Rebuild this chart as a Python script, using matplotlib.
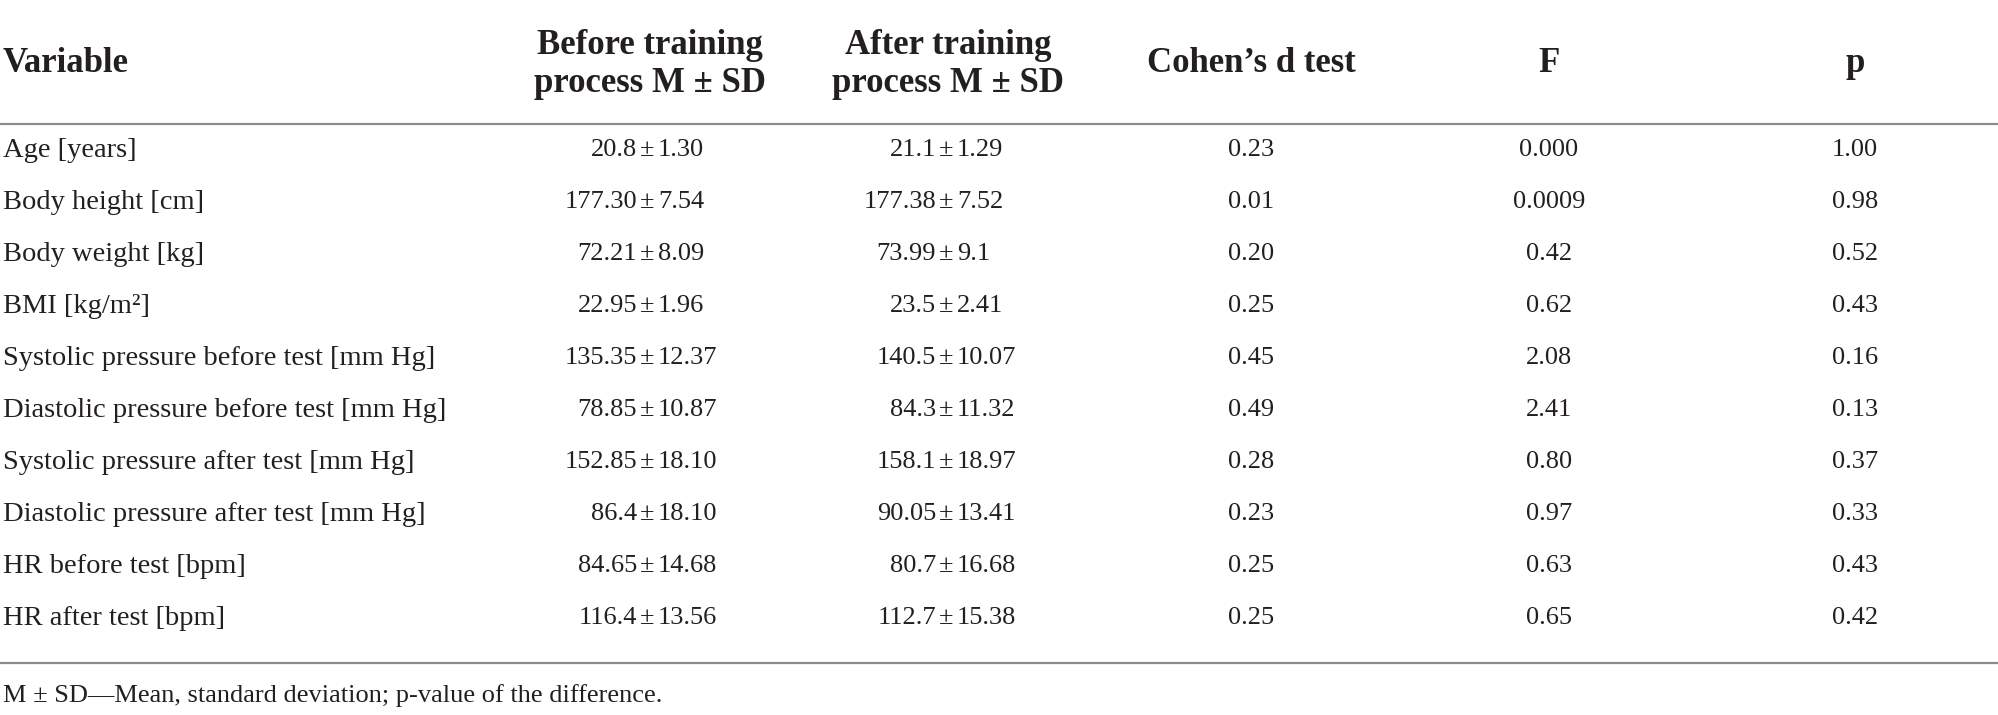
import matplotlib
matplotlib.use("Agg")
import matplotlib.pyplot as plt

variables = [
    "Age [years]",
    "Body height [cm]",
    "Body weight [kg]",
    "BMI [kg/m²]",
    "Systolic pressure before test [mm Hg]",
    "Diastolic pressure before test [mm Hg]",
    "Systolic pressure after test [mm Hg]",
    "Diastolic pressure after test [mm Hg]",
    "HR before test [bpm]",
    "HR after test [bpm]",
]
before_mean = ["20.8", "177.30", "72.21", "22.95", "135.35", "78.85", "152.85", "86.4", "84.65", "116.4"]
before_sd = ["1.30", "7.54", "8.09", "1.96", "12.37", "10.87", "18.10", "18.10", "14.68", "13.56"]
after_mean = ["21.1", "177.38", "73.99", "23.5", "140.5", "84.3", "158.1", "90.05", "80.7", "112.7"]
after_sd = ["1.29", "7.52", "9.1", "2.41", "10.07", "11.32", "18.97", "13.41", "16.68", "15.38"]
cohens_d = ["0.23", "0.01", "0.20", "0.25", "0.45", "0.49", "0.28", "0.23", "0.25", "0.25"]
f_values = ["0.000", "0.0009", "0.42", "0.62", "2.08", "2.41", "0.80", "0.97", "0.63", "0.65"]
p_values = ["1.00", "0.98", "0.52", "0.43", "0.16", "0.13", "0.37", "0.33", "0.43", "0.42"]
headers = ["Variable", "Before training\nprocess M ± SD", "After training\nprocess M ± SD",
           "Cohen’s d test", "F", "p"]
footnote = "M ± SD—Mean, standard deviation; p-value of the difference."

W, H = 1999, 715
fig = plt.figure(figsize=(W / 100, H / 100), dpi=100)
ax = fig.add_axes([0, 0, 1, 1])
ax.set_xlim(0, W)
ax.set_ylim(H, 0)
ax.axis("off")

FONT = "Liberation Serif"
TXT = "#231f20"
LABEL = 20.5
NUM = 19
HEAD = 25

col_x = [3, 647, 946, 1251, 1549, 1855]
header_x = [3, 650, 948, 1251, 1549, 1855]
header_y = 64
row_y0, row_dy = 150.5, 52.0

for i, h in enumerate(headers):
    ha = "left" if i == 0 else "center"
    ax.text(header_x[i], header_y, h, ha=ha, va="center", fontsize=HEAD, fontweight="bold",
            family=FONT, color=TXT, linespacing=1.2)

ax.axhline(123.5, color="#8c8c8c", lw=1.6)
ax.axhline(663, color="#8c8c8c", lw=1.6)

for r in range(len(variables)):
    y = row_y0 + r * row_dy
    kw = dict(va="center", fontsize=NUM, family=FONT, color=TXT)
    ax.text(col_x[0], y, variables[r], ha="left", va="center", fontsize=LABEL, family=FONT, color=TXT)
    for xc, m, s in ((col_x[1], before_mean[r], before_sd[r]), (col_x[2], after_mean[r], after_sd[r])):
        ax.text(xc - 10, y, m, ha="right", **kw)
        ax.text(xc, y, "±", ha="center", **kw)
        ax.text(xc + 11, y, s, ha="left", **kw)
    ax.text(col_x[3], y, cohens_d[r], ha="center", **kw)
    ax.text(col_x[4], y, f_values[r], ha="center", **kw)
    ax.text(col_x[5], y, p_values[r], ha="center", **kw)

ax.text(3, 696, footnote, ha="left", va="center", fontsize=19, family=FONT, color=TXT)

fig.savefig("out.png", dpi=100)
